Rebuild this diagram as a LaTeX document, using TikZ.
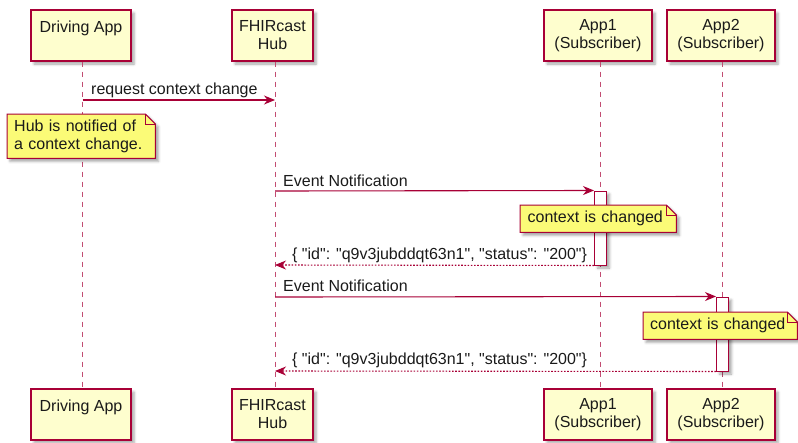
\documentclass[tikz,border=0pt]{standalone}
\usepackage{fontspec}
\newfontfamily\plainfont{Liberation Sans}
\usetikzlibrary{arrows.meta,shadows.blur}
\definecolor{pborder}{HTML}{A80036}
\definecolor{pfill}{HTML}{FEFECE}
\definecolor{nfill}{HTML}{FBFB77}
\definecolor{txt}{HTML}{1A1A1A}
\begin{document}
\begin{tikzpicture}[x=1pt,y=-1pt,
  font=\plainfont\fontsize{16}{18}\selectfont, text=txt,
  shad/.style={blur shadow={shadow xshift=3pt, shadow yshift=-3pt, shadow blur radius=2.5pt, shadow opacity=35}},
  part/.style={draw=pborder, fill=pfill, line width=1.4pt, minimum width=#1, minimum height=51pt, align=center, inner sep=0pt, shad},
  life/.style={draw=pborder!70, line width=1pt, dash pattern=on 5pt off 5pt},
  act/.style={draw=pborder, fill=white, line width=1pt, minimum width=12pt, minimum height=#1, inner sep=0pt, shad},
  msg/.style={draw=pborder, line width=1.1pt, -{Stealth[length=11pt,width=9pt,inset=3.5pt]}},
  ret/.style={msg, dash pattern=on 1.6pt off 1.6pt},
  lbl/.style={anchor=west, inner sep=0pt},
  notebox/.style={inner sep=0pt, align=left, anchor=north west},
  noteline/.style={draw=pborder, fill=nfill, line width=1pt, shad},
  foldline/.style={draw=pborder, line width=1pt}
]
\useasboundingbox (0,0) rectangle (798,442);

% participants top
\node[part=100pt] (da)  at (81,35.5)  {Driving App\\\phantom{Hub}};
\node[part=81pt]  (hub) at (272.5,35.5) {FHIRcast\\Hub};
\node[part=108pt] (a1)  at (598,35.5) {App1\\(Subscriber)};
\node[part=108pt] (a2)  at (721,35.5) {App2\\(Subscriber)};
% participants bottom
\node[part=100pt] (dab)  at (81,414.5)  {Driving App\\\phantom{Hub}};
\node[part=81pt]  (hubb) at (272.5,414.5) {FHIRcast\\Hub};
\node[part=108pt] (a1b)  at (598,414.5) {App1\\(Subscriber)};
\node[part=108pt] (a2b)  at (721,414.5) {App2\\(Subscriber)};

% lifelines
\draw[life] ([xshift=1.5pt]da.south) -- ([xshift=1.5pt]dab.north);
\draw[life] ([xshift=2.5pt]hub.south) -- ([xshift=2.5pt]hubb.north);
\draw[life] ([xshift=2pt]a1.south) -- ([xshift=2pt]a1b.north);
\draw[life] ([xshift=1pt]a2.south) -- ([xshift=1pt]a2b.north);

% message 1
\coordinate (m1s) at (82.5,100);
\coordinate (m1e) at (275,100);
\draw[msg] (m1s) -- (m1e);
\node[lbl] (l1) at (91,90) {request context change};

% note 1
\node[notebox, text width=134pt, minimum width=148pt, minimum height=44pt, inner xsep=7pt] (n1) at (7,114) {\phantom{H}};
\draw[noteline] (n1.south west) -- (n1.north west) -- ([xshift=-10pt]n1.north east) -- ([yshift=-10pt]n1.north east) -- (n1.south east) -- cycle;
\draw[foldline] ([xshift=-10pt]n1.north east) -- ([xshift=-10pt,yshift=-10pt]n1.north east) -- ([yshift=-10pt]n1.north east);
\node[notebox, text width=134pt, minimum width=148pt, minimum height=44pt, inner xsep=7pt] (t1) at (7,114) {Hub is notified of\\a context change.};

% activation App1
\node[act=74pt] (act1) at (600.5,228) {};
\coordinate (h2) at (275,191);
\draw[msg] (h2) -- (act1.north west);
\node[lbl] (l2) at (283,181) {Event Notification};

% note 2
\node[notebox, text width=141pt, minimum width=156pt, minimum height=27pt, inner xsep=7.5pt] (n2) at (520,205) {\phantom{c}};
\draw[noteline] (n2.south west) -- (n2.north west) -- ([xshift=-10pt]n2.north east) -- ([yshift=-10pt]n2.north east) -- (n2.south east) -- cycle;
\draw[foldline] ([xshift=-10pt]n2.north east) -- ([xshift=-10pt,yshift=-10pt]n2.north east) -- ([yshift=-10pt]n2.north east);
\node[notebox, text width=141pt, minimum width=156pt, minimum height=27pt, inner xsep=7.5pt] (t2) at (520,205) {context is changed};

% return 1
\coordinate (h3) at (275,265);
\draw[ret] (act1.south west) -- (h3);
\node[lbl] (l3) at (292,255) {\{ "id": "q9v3jubddqt63n1", "status": "200"\}};

% activation App2
\node[act=74pt] (act2) at (722.5,334) {};
\coordinate (h4) at (275,297);
\draw[msg] (h4) -- (act2.north west);
\node[lbl] (l4) at (283,286) {Event Notification};

% note 3
\node[notebox, text width=140pt, minimum width=154pt, minimum height=27pt, inner xsep=7pt] (n3) at (643,312) {\phantom{c}};
\draw[noteline] (n3.south west) -- (n3.north west) -- ([xshift=-10pt]n3.north east) -- ([yshift=-10pt]n3.north east) -- (n3.south east) -- cycle;
\draw[foldline] ([xshift=-10pt]n3.north east) -- ([xshift=-10pt,yshift=-10pt]n3.north east) -- ([yshift=-10pt]n3.north east);
\node[notebox, text width=140pt, minimum width=154pt, minimum height=27pt, inner xsep=7pt] (t3) at (643,312) {context is changed};

% return 2
\coordinate (h5) at (275,371);
\draw[ret] (act2.south west) -- (h5);
\node[lbl] (l5) at (292,360) {\{ "id": "q9v3jubddqt63n1", "status": "200"\}};
\end{tikzpicture}
\end{document}
